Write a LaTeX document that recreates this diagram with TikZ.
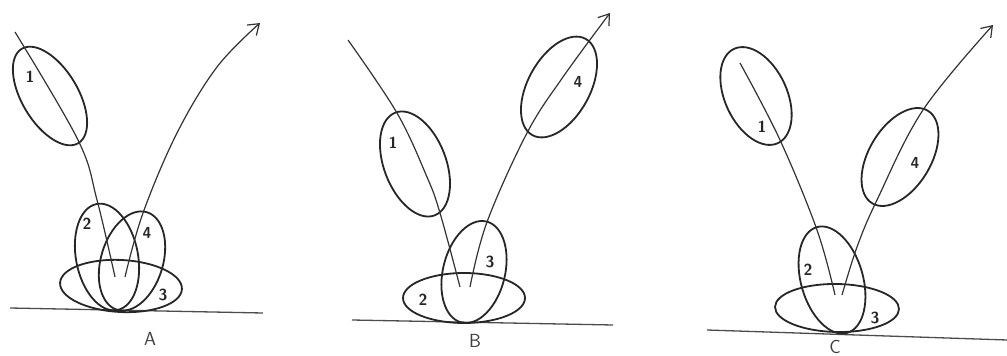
\documentclass[tikz,border=0pt]{standalone}
\usetikzlibrary{arrows.meta}
\begin{document}
\begin{tikzpicture}[x=1pt,y=-1pt,
  oval/.style={draw=black!85,line width=1.8pt},
  path/.style={draw=black!80,line width=1.2pt},
  outpath/.style={path,-{Straight Barb[length=10pt,width=14pt,line width=1.2pt]}},
  ground/.style={draw=black!70,line width=1.3pt},
  num/.style={font=\fontsize{16}{16}\selectfont\sffamily\bfseries,text=black!85,inner sep=0pt},
  tag/.style={font=\fontsize{19}{19}\selectfont\sffamily,text=black!75,inner sep=0pt}]
\useasboundingbox (0,0) rectangle (1007,356);
% ---------- A ----------
\draw[ground] (10,308) -- (263,313);
\draw[oval] (50,96) ellipse [x radius=55pt,y radius=28pt,rotate=-59];
\draw[oval] (107,257) ellipse [x radius=54pt,y radius=31pt,rotate=-79];
\draw[oval] (132,261) ellipse [x radius=51pt,y radius=31pt,rotate=73];
\draw[oval] (121,286) ellipse [x radius=61pt,y radius=26pt,rotate=-3];
\draw[path] plot[smooth,tension=0.6] coordinates {(15,32) (78,140) (97,200) (115,277)};
\draw[outpath] plot[smooth,tension=0.6] coordinates {(125,277) (143,213) (177,133) (217,67) (260,23)};
\node[num] (a1) at (30,77) {1};
\node[num] (a2) at (87,224) {2};
\node[num] (a4) at (147,233) {4};
\node[num] (a3) at (163,295) {3};
\node[tag] (la) at (150,339) {A};
% ---------- B ----------
\draw[ground] (352,320) -- (613,325);
\draw[oval] (415,164) ellipse [x radius=55pt,y radius=31pt,rotate=-69];
\draw[oval] (474,272) ellipse [x radius=52pt,y radius=31pt,rotate=76];
\draw[oval] (464,298) ellipse [x radius=61pt,y radius=25pt,rotate=0];
\draw[oval] (559,87) ellipse [x radius=55pt,y radius=31pt,rotate=61];
\draw[path] plot[smooth,tension=0.6] coordinates {(348,40) (397,113) (427,177) (440,213) (460,287)};
\draw[outpath] plot[smooth,tension=0.6] coordinates {(470,287) (487,222) (527,133) (563,77) (610,13)};
\node[num] (b1) at (393,143) {1};
\node[num] (b2) at (423,300) {2};
\node[num] (b3) at (490,262) {3};
\node[num] (b4) at (578,82) {4};
\node[tag] (lb) at (475,341) {B};
% ---------- C ----------
\draw[ground] (707,330) -- (1007,340);
\draw[oval] (756,96) ellipse [x radius=52pt,y radius=31pt,rotate=-65];
\draw[oval] (832,280) ellipse [x radius=55pt,y radius=31pt,rotate=-74];
\draw[oval] (837,308) ellipse [x radius=62pt,y radius=24pt,rotate=-1];
\draw[oval] (900,157) ellipse [x radius=54pt,y radius=31pt,rotate=59];
\draw[path] plot[smooth,tension=0.6] coordinates {(740,63) (780,140) (817,230) (835,295)};
\draw[outpath] plot[smooth,tension=0.6] coordinates {(842,295) (857,247) (877,200) (923,110) (993,25)};
\node[num] (c1) at (762,127) {1};
\node[num] (c2) at (808,270) {2};
\node[num] (c3) at (875,318) {3};
\node[num] (c4) at (915,163) {4};
\node[tag] (lc) at (835,347) {C};
\end{tikzpicture}
\end{document}
